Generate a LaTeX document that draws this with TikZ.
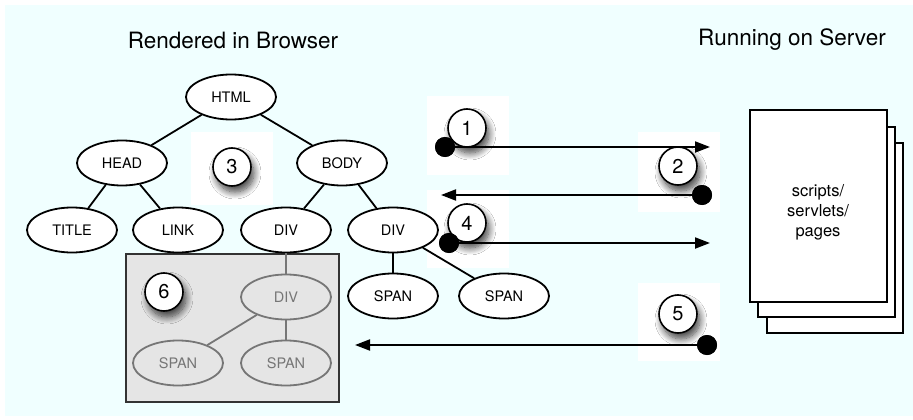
\documentclass[tikz,border=0pt]{standalone}
\usepackage{fontspec}
\setmainfont{TeX Gyre Heros}
\usetikzlibrary{shapes.geometric,arrows.meta,shadows.blur}
\definecolor{bg}{RGB}{240,255,255}
\definecolor{boxgray}{RGB}{229,229,229}
\definecolor{ggray}{RGB}{118,118,118}
\begin{document}
\begin{tikzpicture}[x=1pt,y=-1pt,
  el/.style={ellipse,draw=black,line width=1.8pt,fill=white,minimum width=90pt,minimum height=45pt,inner sep=0pt,font=\fontsize{14.5}{16}\selectfont},
  gel/.style={ellipse,draw=ggray,line width=1.8pt,text=ggray,minimum width=90pt,minimum height=45pt,inner sep=0pt,font=\fontsize{14.5}{16}\selectfont},
  edge/.style={line width=1.8pt,draw=black},
  gedge/.style={line width=1.8pt,draw=ggray},
  num/.style={circle,draw=black,line width=1.6pt,fill=white,minimum size=38pt,inner sep=0pt,font=\fontsize{20}{22}\selectfont,
    blur shadow={shadow xshift=3pt,shadow yshift=-6pt,shadow blur radius=7pt,shadow blur steps=12,shadow opacity=75}},
  whitebg/.style={fill=white,draw=none},
  dot/.style={circle,fill=black,minimum size=20pt,inner sep=0pt},
  conn/.style={line width=2pt,-{Triangle[length=15pt,width=11pt]}},
  page/.style={fill=white,draw=black,line width=1.6pt},
  title/.style={font=\fontsize{22.5}{26}\selectfont}
]
\useasboundingbox (0,0) rectangle (913,420);
\fill[white] (0,0) rectangle (913,420);
\fill[bg] (5,5) rectangle (913,416);

% white backdrops of the numbered marks
\fill[whitebg] (191,132) rectangle (273,205);
\fill[whitebg] (427,96) rectangle (509,175);
\fill[whitebg] (638,132) rectangle (720,212);
\fill[whitebg] (427,190) rectangle (509,268);
\fill[whitebg] (638,283) rectangle (720,361);

% titles
\node[title] (tb) at (233,40) {Rendered in Browser};
\node[title] (ts) at (792,40) {Running on Server};

% gray box
\draw[fill=boxgray,draw=black!80,line width=1.6pt] (126,254) rectangle (339,402);

% tree nodes
\node[el] (html) at (231,97) {HTML};
\node[el] (head) at (122,163) {HEAD};
\node[el] (body) at (342,163) {BODY};
\node[el] (title) at (72,230) {TITLE};
\node[el] (link) at (178,230) {LINK};
\node[el] (div1) at (286,230) {DIV};
\node[el] (div2) at (393,230) {DIV};
\node[el] (span1) at (393,296) {SPAN};
\node[el] (span2) at (504,296) {SPAN};
\node[gel] (gdiv) at (286,297) {DIV};
\node[gel] (gspan1) at (178,363) {SPAN};
\node[gel] (gspan2) at (286,363) {SPAN};

% tree edges
\draw[edge] (html) -- (head);
\draw[edge] (html) -- (body);
\draw[edge] (head) -- (title);
\draw[edge] (head) -- (link);
\draw[edge] (body) -- (div1);
\draw[edge] (body) -- (div2);
\draw[edge] (div2) -- (span1);
\draw[edge] (div2) -- (span2);
\draw[gedge] (div1) -- (gdiv);
\draw[gedge] (gdiv) -- (gspan1);
\draw[gedge] (gdiv) -- (gspan2);

% server pages
\draw[page] (767,143) rectangle (903,333);
\draw[page] (758,127) rectangle (895,317);
\draw[page] (750,110) rectangle (887,302);
\node[align=center,font=\fontsize{16.5}{20}\selectfont] (srv) at (818,212) {scripts/\\servlets/\\pages};

% numbered marks
\node[num] (n1) at (467,128) {1};
\node[num] (n2) at (678,166) {2};
\node[num] (n3) at (232,167) {3};
\node[num] (n4) at (467,223) {4};
\node[num] (n5) at (678,314) {5};
\node[num] (n6) at (164,292) {6};

% request / response arrows
\node[dot] (d1) at (445,147) {};
\node[dot] (d2) at (702,195) {};
\node[dot] (d4) at (449,243) {};
\node[dot] (d5) at (707,345) {};
\coordinate (e1) at (710,147);
\coordinate (e2) at (441,195);
\coordinate (e4) at (710,243);
\coordinate (e5) at (355,345);
\draw[conn] (d1.center) -- (e1);
\draw[conn] (d2.center) -- (e2);
\draw[conn] (d4.center) -- (e4);
\draw[conn] (d5.center) -- (e5);
\node[dot] at (d1) {};
\node[dot] at (d2) {};
\node[dot] at (d4) {};
\node[dot] at (d5) {};
\end{tikzpicture}
\end{document}
